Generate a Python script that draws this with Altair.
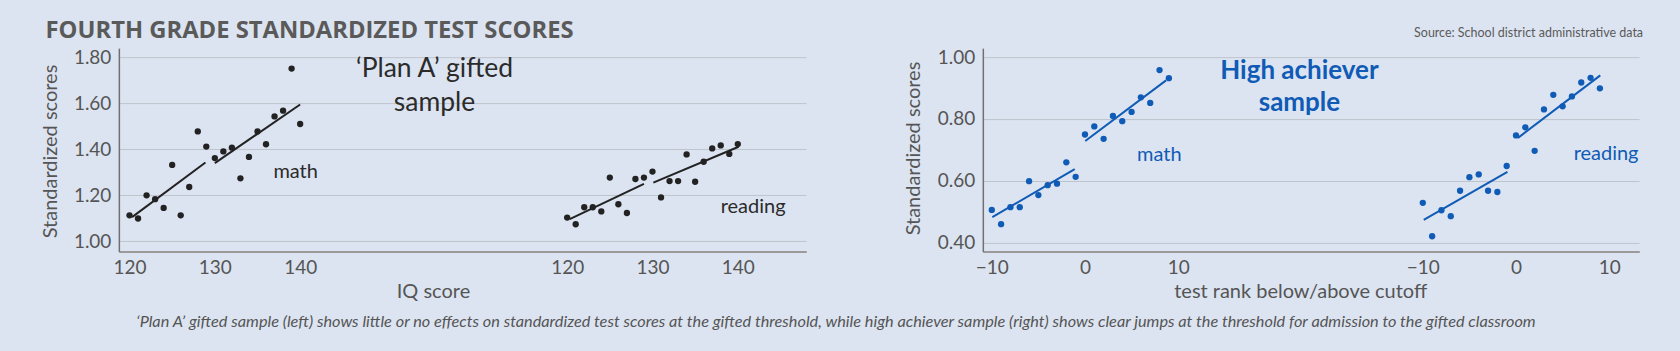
import altair as alt
import pandas as pd

BG = "#dce4f1"
DARK = "#222222"
BLUE = "#0f5bb5"
GRID = "#bfc4cc"
TEXT = "#555555"
FONT = "Lato"

# ---------------- data ----------------
iq = list(range(120, 141))
planA_math = [1.113, 1.099, 1.200, 1.183, 1.145, 1.332, 1.113, 1.236, 1.478, 1.412, 1.362,
              1.391, 1.407, 1.274, 1.367, 1.478, 1.422, 1.543, 1.568, 1.751, 1.510]
planA_reading = [1.103, 1.074, 1.148, 1.148, 1.130, 1.277, 1.161, 1.123, 1.271, 1.277, 1.303,
                 1.191, 1.262, 1.262, 1.378, 1.259, 1.346, 1.404, 1.417, 1.380, 1.423]

rank = list(range(-10, 10))
ha_math = [0.506, 0.460, 0.515, 0.515, 0.599, 0.554, 0.586, 0.591, 0.660, 0.613,
           0.750, 0.776, 0.736, 0.810, 0.793, 0.823, 0.870, 0.852, 0.958, 0.932]
ha_reading = [0.529, 0.421, 0.505, 0.486, 0.568, 0.612, 0.621, 0.568, 0.564, 0.648,
              0.747, 0.773, 0.697, 0.831, 0.878, 0.841, 0.873, 0.918, 0.933, 0.899]

# fitted segments (endpoints), segment id
fit_seg = [1, 1, 2, 2]
planA_math_fit_x = [120.3, 128.9, 130.0, 140.0]
planA_math_fit_y = [1.105, 1.343, 1.340, 1.595]
planA_read_fit_x = [120.3, 129.0, 130.1, 140.1]
planA_read_fit_y = [1.096, 1.250, 1.255, 1.411]
ha_math_fit_x = [-9.94, -1.1, 0.03, 8.7]
ha_math_fit_y = [0.483, 0.638, 0.729, 0.925]
ha_read_fit_x = [-9.9, -0.92, 0.22, 9.04]
ha_read_fit_y = [0.474, 0.629, 0.739, 0.941]

yticks_left = [1.0, 1.2, 1.4, 1.6, 1.8]
yticks_right = [0.4, 0.6, 0.8, 1.0]
xticks_left = [120, 130, 140]
xticks_right = [-10, 0, 10]

# ---------------- layout ----------------
W1, W2, H = 688, 657, 203.5
SPACING = 177
LBL = 19
TTL = 20


def pts(x, v):
    return pd.DataFrame({"x": x, "v": v})


def fit(x, v):
    return pd.DataFrame({"x": x, "v": v, "seg": fit_seg})


def y_enc(scale, vals, title_x, title_y):
    return alt.Y("v:Q", scale=scale, axis=alt.Axis(
        values=vals, format=".2f", title="Standardized scores", grid=True,
        gridColor=GRID, gridWidth=1, ticks=False, domainColor="#707070", domainWidth=1.5,
        labelFont=FONT, labelFontSize=LBL, labelColor=TEXT, labelPadding=8,
        titleFont=FONT, titleFontSize=TTL, titleColor=TEXT, titleFontWeight="normal",
        titleX=title_x, titleY=title_y, titleAngle=-90, titleAlign="center",
        titleBaseline="middle"))


def x_enc(scale, vals, title=None, tx=0, ty=0):
    kw = dict(values=vals, format="d", orient="bottom", grid=False, ticks=False,
              domainColor="#9a9a9a", domainWidth=2, labelFont=FONT, labelFontSize=LBL,
              labelColor=TEXT, labelPadding=7, labelBaseline="top")
    if title is not None:
        kw.update(title=title, titleFont=FONT, titleFontSize=TTL, titleColor=TEXT,
                  titleFontWeight="normal", titleX=tx, titleY=ty, titleAlign="center",
                  titleBaseline="alphabetic")
    else:
        kw.update(title=None)
    return alt.X("x:Q", scale=scale, axis=alt.Axis(**kw))


def group(p_df, f_df, xs, xvals, ys, yvals, color, title, tx, ty, ytx, yty):
    X = x_enc(xs, xvals, title, tx, ty)
    Y = y_enc(ys, yvals, ytx, yty)
    p = alt.Chart(p_df).mark_circle(size=40, color=color, opacity=1).encode(x=X, y=Y)
    l = alt.Chart(f_df).mark_line(color=color, strokeWidth=2).encode(x=X, y=Y, detail="seg:N")
    return alt.layer(p, l)


def label(txt, x, y, size, color, align="center", weight="normal", style="normal", font=FONT):
    return alt.Chart(alt.Data(values=[{}])).mark_text(
        text=txt, align=align, baseline="alphabetic", font=font, fontSize=size,
        color=color, fontWeight=weight, fontStyle=style
    ).encode(x=alt.value(x), y=alt.value(y))


def anchor(x, y):
    return alt.Chart(alt.Data(values=[{}])).mark_point(size=1, opacity=0, filled=True).encode(
        x=alt.value(x), y=alt.value(y))


# ---------------- left panel ----------------
yL = alt.Scale(domain=[0.956, 1.840], nice=False, zero=False)
xLm = alt.Scale(domain=[118.75, 199.3], nice=False, zero=False)
xLr = alt.Scale(domain=[67.45, 148.0], nice=False, zero=False)

left_math = group(pts(iq, planA_math), fit(planA_math_fit_x, planA_math_fit_y), xLm, xticks_left,
                  yL, yticks_left, DARK, "IQ score", 314.5, 46, -68, 103)
left_read = group(pts(iq, planA_reading), fit(planA_read_fit_x, planA_read_fit_y), xLr, xticks_left,
                  yL, yticks_left, DARK, None, 0, 0, -68, 103)

left = alt.layer(
    left_math, left_read,
    label("FOURTH GRADE STANDARDIZED TEST SCORES", -73.4, -9.7, 23.8, "#5a5a5a", align="left",
          weight="bold", font="Open Sans"),
    label("\u2018Plan A\u2019 gifted", 316, 29, 26.5, "#2b2b2b"),
    label("sample", 316, 63, 26.5, "#2b2b2b"),
    label("math", 177, 130, 20, "#2b2b2b"),
    label("reading", 635, 165.3, 20, "#2b2b2b"),
    label("\u2018Plan A\u2019 gifted sample (left) shows little or no effects on standardized test scores at the gifted threshold, "
          "while high achiever sample (right) shows clear jumps at the threshold for admission to the gifted classroom",
          718, 279, 16.3, "#555555", style="italic"),
    anchor(-118, -47),
).resolve_scale(x="independent").properties(width=W1, height=H)

# ---------------- right panel ----------------
yR = alt.Scale(domain=[0.372, 1.029], nice=False, zero=False)
xRm = alt.Scale(domain=[-10.96, 59.45], nice=False, zero=False)
xRr = alt.Scale(domain=[-57.2, 13.2], nice=False, zero=False)

right_math = group(pts(rank, ha_math), fit(ha_math_fit_x, ha_math_fit_y), xRm, xticks_right,
                   yR, yticks_right, BLUE, "test rank below/above cutoff", 317.8, 46, -69.7, 100)
right_read = group(pts(rank, ha_reading), fit(ha_read_fit_x, ha_read_fit_y), xRr, xticks_right,
                   yR, yticks_right, BLUE, None, 0, 0, -69.7, 100)

right = alt.layer(
    right_math, right_read,
    label("Source: School district administrative data", 661, -11, 12.5, "#5a5a5a", align="right"),
    label("High achiever", 317, 31.3, 26, BLUE, weight="bold"),
    label("sample", 317, 63, 26, BLUE, weight="bold"),
    label("math", 176.7, 113, 20, BLUE),
    label("reading", 624, 112.3, 20, BLUE),
    anchor(697, 304),
).resolve_scale(x="independent").properties(width=W2, height=H)

chart = alt.hconcat(left, right, spacing=SPACING, bounds="flush").properties(
    padding=0, background=BG
).configure_view(stroke=None)

chart.save("out.html", embed_options={"renderer": "svg", "actions": False})
